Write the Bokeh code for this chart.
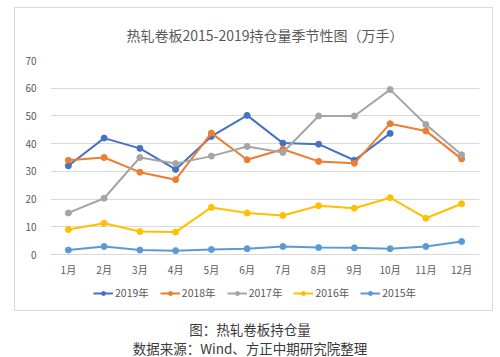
from bokeh.plotting import figure
from bokeh.models import Range1d, Title, Legend, LegendItem, FixedTicker, Div
from bokeh.layouts import column
from bokeh.embed import file_html
from bokeh.resources import INLINE

months = ["1月", "2月", "3月", "4月", "5月", "6月", "7月", "8月", "9月", "10月", "11月", "12月"]
y2019 = [32.0, 42.0, 38.3, 30.7, 42.6, 50.2, 40.2, 39.8, 34.0, 43.7]
y2018 = [34.0, 35.0, 29.7, 27.0, 43.8, 34.2, 38.0, 33.6, 32.9, 47.2, 44.6, 34.5]
y2017 = [15.0, 20.3, 35.0, 32.8, 35.5, 39.0, 36.8, 50.0, 50.0, 59.5, 46.9, 36.0]
y2016 = [9.0, 11.3, 8.3, 8.1, 17.0, 15.0, 14.1, 17.6, 16.7, 20.5, 13.1, 18.3]
y2015 = [1.6, 2.9, 1.6, 1.4, 1.8, 2.1, 2.9, 2.5, 2.4, 2.1, 2.9, 4.7]
series_names = ["2019年", "2018年", "2017年", "2016年", "2015年"]
series_values = [y2019, y2018, y2017, y2016, y2015]
colors = ["#4472C4", "#ED7D31", "#A5A5A5", "#FFC000", "#5B9BD5"]
y_ticks = [0, 10, 20, 30, 40, 50, 60, 70]

TXT = "#595959"
FONT = "Noto Sans CJK SC"

# frame spans below the zero line so the legend can sit inside it
p = figure(width=477, height=302, x_range=months, y_range=Range1d(-20.2, 70),
           output_backend="svg", toolbar_location=None,
           min_border_left=35, min_border_right=13, min_border_top=52, min_border_bottom=0,
           margin=(8, 0, 0, 15), styles={"box-shadow": "0 0 0 1px #D9D9D9"})
p.background_fill_color = "white"
p.border_fill_color = "white"
p.outline_line_color = None

# blank spacer nearest the frame, then the real title above it
spacer = Title(text=" ", text_font_size="8px", standoff=0)
p.add_layout(spacer, "above")
t = Title(text="热轧卷板2015-2019持仓量季节性图（万手）", align="center",
          text_font=FONT, text_font_size="14px", text_color=TXT, text_font_style="normal",
          offset=0, standoff=10)
p.add_layout(t, "above")

ticker = FixedTicker(ticks=y_ticks)
p.yaxis.ticker = ticker
p.ygrid.ticker = ticker
p.yaxis.axis_line_color = None
p.yaxis.major_tick_line_color = None
p.yaxis.minor_tick_line_color = None
p.yaxis.major_label_standoff = 8
p.yaxis.major_label_text_font = FONT
p.yaxis.major_label_text_font_size = "10px"
p.yaxis.major_label_text_color = TXT

p.xaxis.fixed_location = 0
p.xaxis.axis_line_color = "#D9D9D9"
p.xaxis.major_tick_line_color = None
p.xaxis.minor_tick_line_color = None
p.xaxis.major_label_standoff = 1
p.xaxis.major_label_text_font = FONT
p.xaxis.major_label_text_font_size = "10px"
p.xaxis.major_label_text_color = TXT

p.xgrid.grid_line_color = None
p.ygrid.grid_line_color = "#D9D9D9"
p.ygrid.grid_line_width = 1

items = []
for name, vals, c in zip(series_names, series_values, colors):
    xs = months[:len(vals)]
    r1 = p.line(xs, vals, line_color=c, line_width=2)
    r2 = p.scatter(xs, vals, size=6, fill_color=c, line_color=c)
    items.append(LegendItem(label=name, renderers=[r1, r2]))

legend = Legend(items=items, orientation="horizontal", location=(43, 10),
                glyph_width=20, glyph_height=10, label_standoff=2, spacing=11,
                padding=0, margin=0, border_line_color=None, background_fill_alpha=0,
                label_text_font=FONT, label_text_font_size="10.5px", label_text_color=TXT)
p.add_layout(legend, "center")

cap = Div(text="<div style='width:500px;text-align:center;font-family:\"Noto Sans CJK SC\";"
               "font-size:13.5px;color:#3a3a3a;line-height:19px'>"
               "图：热轧卷板持仓量<br>数据来源：Wind、方正中期研究院整理</div>",
          width=500, height=37, margin=(10, 0, 0, 0))

layout = column(p, cap)
open("out.html", "w").write(file_html(layout, INLINE))
